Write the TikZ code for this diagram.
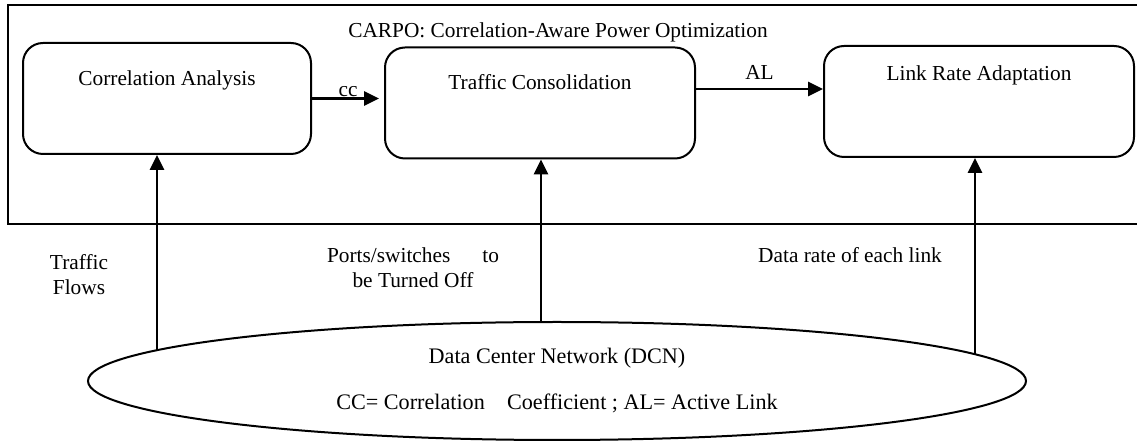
\documentclass[tikz,border=0pt]{standalone}
\usepackage{fontspec}
\setmainfont{Liberation Serif}
\usetikzlibrary{positioning,shapes.geometric,arrows.meta}

\tikzset{
  stagebox/.style={draw,line width=1.2pt,rounded corners=12pt,inner sep=0pt,
    minimum width=#1,minimum height=66.6pt},
  flowarrow/.style={line width=1.6pt,-{Triangle[length=9pt,width=8.5pt]}},
  netnode/.style={draw,ellipse,line width=1.2pt,inner sep=0pt,align=center,
    minimum width=562.8pt,minimum height=70.8pt,font=\fontsize{13.3}{15}\selectfont},
}

\begin{document}
\begin{tikzpicture}[x=0.6pt,y=-0.6pt,font=\fontsize{12.8}{15}\selectfont]
\useasboundingbox (0,0) rectangle (1137,441);
% frame of CARPO, open to the right
\draw[line width=1pt] (1137,5) -- (8,5) -- (8,224) -- (1137,224);
\node (carpo) at (558,32) {CARPO: Correlation-Aware Power Optimization};

% the three stages
\node[stagebox=172.8pt] (ca) at (167,98.5) {};
\node[stagebox=186pt] (tc) at (540,103) {};
\node[stagebox=186pt] (lra) at (979,101.5) {};
\node (catext) at (167,80) {Correlation Analysis};
\node (tctext) at (540,82) {Traffic Consolidation};
\node (lratext) at (979,75) {Link Rate Adaptation};

\draw[flowarrow,shorten >=3pt] (ca.east) -- node[above=0pt,inner sep=0pt] (cclabel) {cc} (ca.east -| tc.west);
\draw[flowarrow] ([yshift=8.4pt]tc.east) -- node[above=5pt,inner sep=0pt] (allabel) {AL} ([yshift=8.4pt]tc.east -| lra.west);

% the network
\node[netnode] (dcn) at (557,381) {Data Center Network (DCN)\\[12.6pt]CC= Correlation\hspace{10pt} Coefficient ; AL= Active Link};

% points where the inputs leave the ellipse
\coordinate (flowsrc) at (157,350);
\coordinate (offsrc) at (541,322);
\coordinate (ratesrc) at (975,354);
\draw[flowarrow] (flowsrc) -- (flowsrc |- ca.south);
\draw[flowarrow] (offsrc) -- (offsrc |- tc.south);
\draw[flowarrow] (ratesrc) -- (ratesrc |- lra.south);

\node[align=center] (flowslbl) at (79,274.5) {Traffic\\Flows};
\node[align=center] (offlbl) at (413,267.5) {Ports/switches\hspace{16pt} to\\be Turned Off};
\node (ratelbl) at (850,255) {Data rate of each link};
\end{tikzpicture}
\end{document}
